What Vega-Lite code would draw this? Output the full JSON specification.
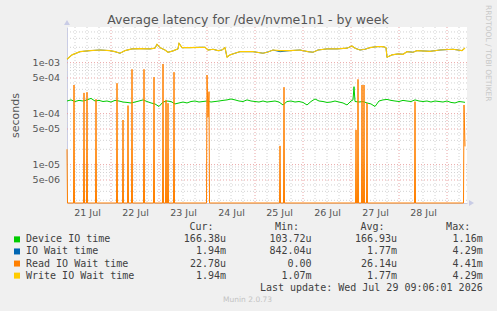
{
  "$schema": "https://vega.github.io/schema/vega-lite/v6.json",
  "width": 400,
  "height": 176,
  "autosize": {"type": "none"},
  "padding": {"left": 67, "top": 27, "right": 30, "bottom": 108},
  "background": "#f0f0f0",
  "config": {
    "view": {"fill": "#ffffff", "stroke": null},
    "font": "DejaVu Sans"
  },
  "title": {
    "text": "Average latency for /dev/nvme1n1 - by week",
    "fontSize": 12.5,
    "fontWeight": "normal",
    "color": "#555555",
    "anchor": "middle",
    "frame": "group",
    "offset": 2,
    "dx": -19,
    "dy": 23.5
  },
  "datasets": {
    "gridHours": [
      {"t": "2026-07-21T06:00"}, {"t": "2026-07-21T12:00"}, {"t": "2026-07-21T18:00"},
      {"t": "2026-07-22T06:00"}, {"t": "2026-07-22T12:00"}, {"t": "2026-07-22T18:00"},
      {"t": "2026-07-23T06:00"}, {"t": "2026-07-23T12:00"}, {"t": "2026-07-23T18:00"},
      {"t": "2026-07-24T06:00"}, {"t": "2026-07-24T12:00"}, {"t": "2026-07-24T18:00"},
      {"t": "2026-07-25T06:00"}, {"t": "2026-07-25T12:00"}, {"t": "2026-07-25T18:00"},
      {"t": "2026-07-26T06:00"}, {"t": "2026-07-26T12:00"}, {"t": "2026-07-26T18:00"},
      {"t": "2026-07-27T06:00"}, {"t": "2026-07-27T12:00"}, {"t": "2026-07-27T18:00"},
      {"t": "2026-07-28T06:00"}, {"t": "2026-07-28T12:00"}, {"t": "2026-07-28T18:00"},
      {"t": "2026-07-29T06:00"}
    ],
    "gridDays": [
      {"t": "2026-07-22T00:00"}, {"t": "2026-07-23T00:00"}, {"t": "2026-07-24T00:00"},
      {"t": "2026-07-25T00:00"}, {"t": "2026-07-26T00:00"}, {"t": "2026-07-27T00:00"},
      {"t": "2026-07-28T00:00"}, {"t": "2026-07-29T00:00"}
    ],
    "gridMinorY": [
      {"v": 2e-6}, {"v": 3e-6}, {"v": 4e-6}, {"v": 6e-6}, {"v": 7e-6}, {"v": 8e-6}, {"v": 9e-6},
      {"v": 2e-5}, {"v": 3e-5}, {"v": 4e-5}, {"v": 6e-5}, {"v": 7e-5}, {"v": 8e-5}, {"v": 9e-5},
      {"v": 2e-4}, {"v": 3e-4}, {"v": 4e-4}, {"v": 6e-4}, {"v": 7e-4}, {"v": 8e-4}, {"v": 9e-4},
      {"v": 2e-3}, {"v": 3e-3}, {"v": 4e-3}
    ],
    "ylabels": [
      {"v": 1e-3, "label": "1e-03"}, {"v": 5e-4, "label": "5e-04"},
      {"v": 1e-4, "label": "1e-04"}, {"v": 5e-5, "label": "5e-05"},
      {"v": 1e-5, "label": "1e-05"}, {"v": 5e-6, "label": "5e-06"}
    ],
    "dev": [
      {"t": "2026-07-21T02:00", "v": 1.77e-4}, {"t": "2026-07-21T04:00", "v": 1.86e-4},
      {"t": "2026-07-21T06:00", "v": 1.73e-4}, {"t": "2026-07-21T08:00", "v": 1.82e-4},
      {"t": "2026-07-21T10:00", "v": 1.77e-4}, {"t": "2026-07-21T12:00", "v": 1.86e-4},
      {"t": "2026-07-21T14:00", "v": 1.99e-4}, {"t": "2026-07-21T16:00", "v": 1.77e-4},
      {"t": "2026-07-21T18:00", "v": 1.82e-4}, {"t": "2026-07-21T20:00", "v": 1.73e-4},
      {"t": "2026-07-21T22:00", "v": 1.77e-4}, {"t": "2026-07-22T00:00", "v": 1.69e-4},
      {"t": "2026-07-22T02:00", "v": 1.82e-4}, {"t": "2026-07-22T04:00", "v": 1.77e-4},
      {"t": "2026-07-22T06:00", "v": 1.69e-4}, {"t": "2026-07-22T08:00", "v": 1.66e-4},
      {"t": "2026-07-22T10:00", "v": 1.62e-4}, {"t": "2026-07-22T12:00", "v": 1.69e-4},
      {"t": "2026-07-22T14:00", "v": 1.77e-4}, {"t": "2026-07-22T16:00", "v": 1.86e-4},
      {"t": "2026-07-22T18:00", "v": 1.73e-4}, {"t": "2026-07-22T20:00", "v": 1.62e-4},
      {"t": "2026-07-22T22:00", "v": 1.55e-4}, {"t": "2026-07-23T00:00", "v": 1.38e-4},
      {"t": "2026-07-23T02:00", "v": 1.69e-4}, {"t": "2026-07-23T04:00", "v": 1.77e-4},
      {"t": "2026-07-23T06:00", "v": 1.73e-4}, {"t": "2026-07-23T08:00", "v": 1.55e-4},
      {"t": "2026-07-23T10:00", "v": 1.62e-4}, {"t": "2026-07-23T12:00", "v": 1.69e-4},
      {"t": "2026-07-23T14:00", "v": 1.62e-4}, {"t": "2026-07-23T16:00", "v": 1.73e-4},
      {"t": "2026-07-23T18:00", "v": 1.77e-4}, {"t": "2026-07-23T20:00", "v": 1.69e-4},
      {"t": "2026-07-23T22:00", "v": 1.73e-4}, {"t": "2026-07-24T00:00", "v": 1.77e-4},
      {"t": "2026-07-24T02:00", "v": 1.69e-4}, {"t": "2026-07-24T04:00", "v": 1.73e-4},
      {"t": "2026-07-24T06:00", "v": 1.77e-4}, {"t": "2026-07-24T08:00", "v": 1.82e-4},
      {"t": "2026-07-24T10:00", "v": 1.86e-4}, {"t": "2026-07-24T12:00", "v": 1.94e-4},
      {"t": "2026-07-24T14:00", "v": 1.86e-4}, {"t": "2026-07-24T16:00", "v": 1.77e-4},
      {"t": "2026-07-24T18:00", "v": 1.73e-4}, {"t": "2026-07-24T20:00", "v": 1.86e-4},
      {"t": "2026-07-24T22:00", "v": 1.77e-4}, {"t": "2026-07-25T00:00", "v": 1.73e-4},
      {"t": "2026-07-25T02:00", "v": 1.69e-4}, {"t": "2026-07-25T04:00", "v": 1.77e-4},
      {"t": "2026-07-25T06:00", "v": 1.69e-4}, {"t": "2026-07-25T08:00", "v": 1.73e-4},
      {"t": "2026-07-25T10:00", "v": 1.77e-4}, {"t": "2026-07-25T12:00", "v": 1.69e-4},
      {"t": "2026-07-25T14:00", "v": 1.48e-4}, {"t": "2026-07-25T16:00", "v": 1.73e-4},
      {"t": "2026-07-25T18:00", "v": 1.77e-4}, {"t": "2026-07-25T20:00", "v": 1.69e-4},
      {"t": "2026-07-25T22:00", "v": 1.73e-4}, {"t": "2026-07-26T00:00", "v": 1.66e-4},
      {"t": "2026-07-26T02:00", "v": 1.48e-4}, {"t": "2026-07-26T04:00", "v": 1.73e-4},
      {"t": "2026-07-26T06:00", "v": 1.94e-4}, {"t": "2026-07-26T08:00", "v": 1.77e-4},
      {"t": "2026-07-26T10:00", "v": 1.73e-4}, {"t": "2026-07-26T12:00", "v": 1.66e-4},
      {"t": "2026-07-26T14:00", "v": 1.69e-4}, {"t": "2026-07-26T16:00", "v": 1.77e-4},
      {"t": "2026-07-26T18:00", "v": 1.69e-4}, {"t": "2026-07-26T20:00", "v": 1.62e-4},
      {"t": "2026-07-26T22:00", "v": 1.48e-4}, {"t": "2026-07-27T00:00", "v": 1.77e-4},
      {"t": "2026-07-27T01:00", "v": 1.86e-4}, {"t": "2026-07-27T01:30", "v": 3.38e-4},
      {"t": "2026-07-27T02:00", "v": 1.73e-4}, {"t": "2026-07-27T04:00", "v": 1.69e-4},
      {"t": "2026-07-27T06:00", "v": 1.73e-4}, {"t": "2026-07-27T08:00", "v": 1.62e-4},
      {"t": "2026-07-27T10:00", "v": 1.55e-4}, {"t": "2026-07-27T12:00", "v": 1.38e-4},
      {"t": "2026-07-27T14:00", "v": 1.77e-4}, {"t": "2026-07-27T16:00", "v": 1.86e-4},
      {"t": "2026-07-27T18:00", "v": 1.90e-4}, {"t": "2026-07-27T20:00", "v": 1.82e-4},
      {"t": "2026-07-27T22:00", "v": 1.77e-4}, {"t": "2026-07-28T00:00", "v": 1.73e-4},
      {"t": "2026-07-28T02:00", "v": 1.82e-4}, {"t": "2026-07-28T04:00", "v": 1.77e-4},
      {"t": "2026-07-28T06:00", "v": 1.73e-4}, {"t": "2026-07-28T08:00", "v": 1.86e-4},
      {"t": "2026-07-28T10:00", "v": 1.77e-4}, {"t": "2026-07-28T12:00", "v": 1.73e-4},
      {"t": "2026-07-28T14:00", "v": 1.77e-4}, {"t": "2026-07-28T16:00", "v": 1.69e-4},
      {"t": "2026-07-28T18:00", "v": 1.77e-4}, {"t": "2026-07-28T20:00", "v": 1.73e-4},
      {"t": "2026-07-28T22:00", "v": 1.69e-4}, {"t": "2026-07-29T00:00", "v": 1.77e-4},
      {"t": "2026-07-29T02:00", "v": 1.66e-4}, {"t": "2026-07-29T04:00", "v": 1.62e-4},
      {"t": "2026-07-29T06:00", "v": 1.73e-4}, {"t": "2026-07-29T08:00", "v": 1.69e-4},
      {"t": "2026-07-29T09:00", "v": 1.6638e-4}
    ],
    "iowait": [
      {"t": "2026-07-21T02:00", "v": 1.166e-3}, {"t": "2026-07-21T04:30", "v": 1.42e-3},
      {"t": "2026-07-21T08:30", "v": 1.64e-3}, {"t": "2026-07-21T13:30", "v": 1.72e-3},
      {"t": "2026-07-21T18:30", "v": 1.77e-3}, {"t": "2026-07-21T23:30", "v": 1.72e-3},
      {"t": "2026-07-22T02:00", "v": 1.64e-3}, {"t": "2026-07-22T04:30", "v": 1.53e-3},
      {"t": "2026-07-22T07:00", "v": 1.72e-3}, {"t": "2026-07-22T10:30", "v": 1.86e-3},
      {"t": "2026-07-22T14:30", "v": 1.88e-3}, {"t": "2026-07-22T19:30", "v": 1.86e-3},
      {"t": "2026-07-22T22:00", "v": 1.92e-3}, {"t": "2026-07-22T23:00", "v": 2.30e-3},
      {"t": "2026-07-23T00:30", "v": 1.97e-3}, {"t": "2026-07-23T03:00", "v": 1.77e-3},
      {"t": "2026-07-23T04:30", "v": 1.60e-3}, {"t": "2026-07-23T07:00", "v": 1.70e-3},
      {"t": "2026-07-23T09:30", "v": 1.86e-3}, {"t": "2026-07-23T10:00", "v": 2.40e-3},
      {"t": "2026-07-23T11:30", "v": 1.97e-3}, {"t": "2026-07-23T15:30", "v": 1.97e-3},
      {"t": "2026-07-23T20:30", "v": 2.00e-3}, {"t": "2026-07-23T23:00", "v": 2.00e-3},
      {"t": "2026-07-24T00:30", "v": 1.77e-3}, {"t": "2026-07-24T03:00", "v": 1.83e-3},
      {"t": "2026-07-24T05:30", "v": 1.72e-3}, {"t": "2026-07-24T07:30", "v": 1.77e-3},
      {"t": "2026-07-24T09:00", "v": 1.97e-3}, {"t": "2026-07-24T10:00", "v": 1.28e-3},
      {"t": "2026-07-24T11:30", "v": 1.42e-3}, {"t": "2026-07-24T14:00", "v": 1.53e-3},
      {"t": "2026-07-24T16:30", "v": 1.64e-3}, {"t": "2026-07-24T23:00", "v": 1.64e-3},
      {"t": "2026-07-25T04:00", "v": 1.53e-3}, {"t": "2026-07-25T06:30", "v": 1.62e-3},
      {"t": "2026-07-25T09:00", "v": 1.77e-3}, {"t": "2026-07-25T12:30", "v": 1.64e-3},
      {"t": "2026-07-25T17:30", "v": 1.72e-3}, {"t": "2026-07-25T22:30", "v": 1.77e-3},
      {"t": "2026-07-26T02:30", "v": 1.64e-3}, {"t": "2026-07-26T05:00", "v": 1.60e-3},
      {"t": "2026-07-26T07:30", "v": 1.77e-3}, {"t": "2026-07-26T12:00", "v": 1.86e-3},
      {"t": "2026-07-26T17:00", "v": 1.86e-3}, {"t": "2026-07-26T22:00", "v": 1.92e-3},
      {"t": "2026-07-27T00:30", "v": 2.12e-3}, {"t": "2026-07-27T02:00", "v": 1.92e-3},
      {"t": "2026-07-27T04:30", "v": 1.77e-3}, {"t": "2026-07-27T07:00", "v": 1.83e-3},
      {"t": "2026-07-27T09:30", "v": 1.97e-3}, {"t": "2026-07-27T13:00", "v": 2.06e-3},
      {"t": "2026-07-27T16:00", "v": 2.06e-3}, {"t": "2026-07-27T17:30", "v": 1.97e-3},
      {"t": "2026-07-27T18:00", "v": 1.28e-3}, {"t": "2026-07-27T20:30", "v": 1.42e-3},
      {"t": "2026-07-27T23:30", "v": 1.48e-3}, {"t": "2026-07-28T02:00", "v": 1.46e-3},
      {"t": "2026-07-28T04:00", "v": 1.64e-3}, {"t": "2026-07-28T07:00", "v": 1.60e-3},
      {"t": "2026-07-28T09:00", "v": 1.72e-3}, {"t": "2026-07-28T15:30", "v": 1.67e-3},
      {"t": "2026-07-28T20:30", "v": 1.77e-3}, {"t": "2026-07-29T03:00", "v": 1.83e-3},
      {"t": "2026-07-29T07:30", "v": 1.72e-3}, {"t": "2026-07-29T09:00", "v": 1.94e-3}
    ],
    "write": [
      {"t": "2026-07-21T02:00", "v": 1.166e-3}, {"t": "2026-07-21T04:30", "v": 1.42e-3},
      {"t": "2026-07-21T08:30", "v": 1.64e-3}, {"t": "2026-07-21T13:30", "v": 1.72e-3},
      {"t": "2026-07-21T18:30", "v": 1.77e-3}, {"t": "2026-07-21T23:30", "v": 1.72e-3},
      {"t": "2026-07-22T02:00", "v": 1.64e-3}, {"t": "2026-07-22T04:30", "v": 1.53e-3},
      {"t": "2026-07-22T07:00", "v": 1.72e-3}, {"t": "2026-07-22T10:30", "v": 1.86e-3},
      {"t": "2026-07-22T14:30", "v": 1.88e-3}, {"t": "2026-07-22T19:30", "v": 1.86e-3},
      {"t": "2026-07-22T22:00", "v": 1.92e-3}, {"t": "2026-07-22T23:00", "v": 2.30e-3},
      {"t": "2026-07-23T00:30", "v": 1.97e-3}, {"t": "2026-07-23T03:00", "v": 1.77e-3},
      {"t": "2026-07-23T04:30", "v": 1.60e-3}, {"t": "2026-07-23T07:00", "v": 1.70e-3},
      {"t": "2026-07-23T09:30", "v": 1.86e-3}, {"t": "2026-07-23T10:00", "v": 2.40e-3},
      {"t": "2026-07-23T11:30", "v": 1.97e-3}, {"t": "2026-07-23T15:30", "v": 1.97e-3},
      {"t": "2026-07-23T20:30", "v": 2.00e-3}, {"t": "2026-07-23T23:00", "v": 2.00e-3},
      {"t": "2026-07-24T00:30", "v": 1.77e-3}, {"t": "2026-07-24T03:00", "v": 1.83e-3},
      {"t": "2026-07-24T05:30", "v": 1.72e-3}, {"t": "2026-07-24T07:30", "v": 1.77e-3},
      {"t": "2026-07-24T09:00", "v": 1.97e-3}, {"t": "2026-07-24T10:00", "v": 1.28e-3},
      {"t": "2026-07-24T11:30", "v": 1.42e-3}, {"t": "2026-07-24T14:00", "v": 1.53e-3},
      {"t": "2026-07-24T16:30", "v": 1.64e-3}, {"t": "2026-07-24T23:00", "v": 1.64e-3},
      {"t": "2026-07-25T04:00", "v": 1.53e-3}, {"t": "2026-07-25T06:30", "v": 1.62e-3},
      {"t": "2026-07-25T09:00", "v": 1.77e-3}, {"t": "2026-07-25T12:30", "v": 1.72e-3},
      {"t": "2026-07-25T17:30", "v": 1.72e-3}, {"t": "2026-07-25T22:30", "v": 1.77e-3},
      {"t": "2026-07-26T02:30", "v": 1.64e-3}, {"t": "2026-07-26T05:00", "v": 1.60e-3},
      {"t": "2026-07-26T07:30", "v": 1.77e-3}, {"t": "2026-07-26T12:00", "v": 1.86e-3},
      {"t": "2026-07-26T17:00", "v": 1.86e-3}, {"t": "2026-07-26T22:00", "v": 1.92e-3},
      {"t": "2026-07-27T00:30", "v": 2.12e-3}, {"t": "2026-07-27T02:00", "v": 1.92e-3},
      {"t": "2026-07-27T04:30", "v": 1.77e-3}, {"t": "2026-07-27T07:00", "v": 1.83e-3},
      {"t": "2026-07-27T09:30", "v": 1.97e-3}, {"t": "2026-07-27T13:00", "v": 2.06e-3},
      {"t": "2026-07-27T16:00", "v": 2.06e-3}, {"t": "2026-07-27T17:30", "v": 1.97e-3},
      {"t": "2026-07-27T18:00", "v": 1.28e-3}, {"t": "2026-07-27T20:30", "v": 1.42e-3},
      {"t": "2026-07-27T23:30", "v": 1.48e-3}, {"t": "2026-07-28T02:00", "v": 1.46e-3},
      {"t": "2026-07-28T04:00", "v": 1.64e-3}, {"t": "2026-07-28T07:00", "v": 1.60e-3},
      {"t": "2026-07-28T09:00", "v": 1.72e-3}, {"t": "2026-07-28T15:30", "v": 1.67e-3},
      {"t": "2026-07-28T20:30", "v": 1.77e-3}, {"t": "2026-07-29T03:00", "v": 1.83e-3},
      {"t": "2026-07-29T07:30", "v": 1.72e-3}, {"t": "2026-07-29T09:00", "v": 1.94e-3}
    ],
    "read": [
      {"t": "2026-07-21T02:00", "v": 2.0e-5}, {"t": "2026-07-21T02:15", "v": 0},
      {"t": "2026-07-21T05:15", "v": 0}, {"t": "2026-07-21T05:30", "v": 3.65e-4}, {"t": "2026-07-21T05:45", "v": 0},
      {"t": "2026-07-21T10:15", "v": 0}, {"t": "2026-07-21T10:30", "v": 2.55e-4}, {"t": "2026-07-21T10:45", "v": 0},
      {"t": "2026-07-21T11:45", "v": 0}, {"t": "2026-07-21T12:00", "v": 2.63e-4}, {"t": "2026-07-21T12:15", "v": 0},
      {"t": "2026-07-21T16:15", "v": 0}, {"t": "2026-07-21T16:30", "v": 1.92e-4}, {"t": "2026-07-21T16:45", "v": 0},
      {"t": "2026-07-22T02:45", "v": 0}, {"t": "2026-07-22T03:00", "v": 3.95e-4}, {"t": "2026-07-22T03:15", "v": 0},
      {"t": "2026-07-22T05:45", "v": 0}, {"t": "2026-07-22T06:00", "v": 7.5e-5}, {"t": "2026-07-22T06:15", "v": 0},
      {"t": "2026-07-22T08:15", "v": 0}, {"t": "2026-07-22T08:30", "v": 1.44e-4}, {"t": "2026-07-22T08:45", "v": 0},
      {"t": "2026-07-22T10:15", "v": 0}, {"t": "2026-07-22T10:30", "v": 7.4e-4}, {"t": "2026-07-22T10:45", "v": 0},
      {"t": "2026-07-22T16:15", "v": 0}, {"t": "2026-07-22T16:30", "v": 7.4e-4}, {"t": "2026-07-22T16:45", "v": 0},
      {"t": "2026-07-22T21:15", "v": 0}, {"t": "2026-07-22T21:30", "v": 5.2e-4}, {"t": "2026-07-22T21:45", "v": 0},
      {"t": "2026-07-23T01:45", "v": 0}, {"t": "2026-07-23T02:00", "v": 9.4e-4}, {"t": "2026-07-23T02:15", "v": 0},
      {"t": "2026-07-23T03:15", "v": 0}, {"t": "2026-07-23T03:30", "v": 1.86e-4}, {"t": "2026-07-23T03:45", "v": 0},
      {"t": "2026-07-23T04:15", "v": 0}, {"t": "2026-07-23T04:30", "v": 1.6e-4}, {"t": "2026-07-23T04:45", "v": 0},
      {"t": "2026-07-23T07:15", "v": 0}, {"t": "2026-07-23T07:30", "v": 6.5e-4}, {"t": "2026-07-23T07:45", "v": 0},
      {"t": "2026-07-23T23:45", "v": 0}, {"t": "2026-07-24T00:00", "v": 5.7e-4}, {"t": "2026-07-24T00:30", "v": 8.5e-5},
      {"t": "2026-07-24T01:00", "v": 2.7e-4}, {"t": "2026-07-24T01:15", "v": 0},
      {"t": "2026-07-25T12:15", "v": 0}, {"t": "2026-07-25T12:30", "v": 2.33e-5}, {"t": "2026-07-25T12:45", "v": 0},
      {"t": "2026-07-25T14:15", "v": 0}, {"t": "2026-07-25T14:30", "v": 3.3e-4}, {"t": "2026-07-25T14:45", "v": 0},
      {"t": "2026-07-27T02:15", "v": 0}, {"t": "2026-07-27T02:30", "v": 4.8e-5}, {"t": "2026-07-27T02:45", "v": 0},
      {"t": "2026-07-27T03:15", "v": 0}, {"t": "2026-07-27T03:30", "v": 4.7e-4}, {"t": "2026-07-27T03:45", "v": 0},
      {"t": "2026-07-27T05:15", "v": 0}, {"t": "2026-07-27T05:30", "v": 3.65e-4}, {"t": "2026-07-27T05:45", "v": 0},
      {"t": "2026-07-27T06:15", "v": 0}, {"t": "2026-07-27T06:30", "v": 3.65e-4}, {"t": "2026-07-27T06:45", "v": 0},
      {"t": "2026-07-27T07:45", "v": 0}, {"t": "2026-07-27T08:00", "v": 1.62e-4}, {"t": "2026-07-27T08:15", "v": 0},
      {"t": "2026-07-28T07:45", "v": 0}, {"t": "2026-07-28T08:00", "v": 1.72e-4}, {"t": "2026-07-28T08:15", "v": 0},
      {"t": "2026-07-29T08:15", "v": 0}, {"t": "2026-07-29T08:30", "v": 1.48e-4}, {"t": "2026-07-29T09:00", "v": 2.278e-5}
    ],
    "stats": [
      {"row": "Device IO time", "Cur": "166.38u", "Min": "103.72u", "Avg": "166.93u", "Max": "1.16m"},
      {"row": "IO Wait time", "Cur": "1.94m", "Min": "842.04u", "Avg": "1.77m", "Max": "4.29m"},
      {"row": "Read IO Wait time", "Cur": "22.78u", "Min": "0.00\u00a0", "Avg": "26.14u", "Max": "4.41m"},
      {"row": "Write IO Wait time", "Cur": "1.94m", "Min": "1.07m", "Avg": "1.77m", "Max": "4.29m"}
    ],
    "heads": [
      {"row": "hdr", "col": "Cur", "text": "Cur:"},
      {"row": "hdr", "col": "Min", "text": "Min:"},
      {"row": "hdr", "col": "Avg", "text": "Avg:"},
      {"row": "hdr", "col": "Max", "text": "Max:"}
    ],
    "notes": [
      {"row": "update", "col": "Max", "text": "Last update: Wed Jul 29 09:06:01 2026"}
    ],
    "footer": [
      {"row": "munin", "col": "Min", "text": "Munin 2.0.73"}
    ]
  },
  "layer": [
    {
      "layer": [
        {
          "data": {"name": "gridHours"},
          "mark": {"type": "rule", "strokeWidth": 1, "strokeDash": [1, 2], "color": "#d2d2d2"},
          "encoding": {
            "x": {
              "field": "t", "type": "temporal",
              "scale": {"domain": [{"year": 2026, "month": 7, "date": 21, "hours": 2}, {"year": 2026, "month": 7, "date": 29, "hours": 10}]},
              "axis": {
                "title": null,
                "values": [
                  {"year": 2026, "month": 7, "date": 21, "hours": 12}, {"year": 2026, "month": 7, "date": 22, "hours": 12},
                  {"year": 2026, "month": 7, "date": 23, "hours": 12}, {"year": 2026, "month": 7, "date": 24, "hours": 12},
                  {"year": 2026, "month": 7, "date": 25, "hours": 12}, {"year": 2026, "month": 7, "date": 26, "hours": 12},
                  {"year": 2026, "month": 7, "date": 27, "hours": 12}, {"year": 2026, "month": 7, "date": 28, "hours": 12}
                ],
                "format": "%d %b",
                "grid": false,
                "ticks": false,
                "labelFontSize": 9.5,
                "labelColor": "#555555",
                "labelPadding": 4,
                "domainColor": "#c9cce6"
              }
            }
          }
        },
        {
          "data": {"name": "gridDays"},
          "mark": {"type": "rule", "strokeWidth": 1, "strokeDash": [1, 2], "color": "#e8a4a4"},
          "encoding": {"x": {"field": "t", "type": "temporal"}}
        },
        {
          "data": {"name": "gridMinorY"},
          "mark": {"type": "rule", "strokeWidth": 1, "strokeDash": [1, 2], "color": "#d2d2d2"},
          "encoding": {
            "y": {
              "field": "v", "type": "quantitative",
              "scale": {"type": "log", "domain": [1.77e-6, 5.0e-3], "nice": false, "clamp": true},
              "axis": {
                "title": "seconds",
                "titleFontSize": 11,
                "titleFontWeight": "normal",
                "titleColor": "#555555",
                "titlePadding": 47,
                "labels": false,
                "ticks": false,
                "grid": false,
                "domainColor": "#c9cce6"
              }
            }
          }
        },
        {
          "data": {"name": "ylabels"},
          "mark": {"type": "rule", "strokeWidth": 1, "strokeDash": [1, 2], "color": "#e8a4a4"},
          "encoding": {"y": {"field": "v", "type": "quantitative"}}
        },
        {
          "data": {"name": "ylabels"},
          "mark": {"type": "text", "align": "right", "baseline": "middle", "fontSize": 9.5, "color": "#555555", "dx": -7},
          "encoding": {
            "x": {"datum": {"year": 2026, "month": 7, "date": 21, "hours": 2}, "type": "temporal"},
            "y": {"field": "v", "type": "quantitative"},
            "text": {"field": "label"}
          }
        },
        {
          "data": {"name": "dev"},
          "mark": {"type": "line", "strokeWidth": 1},
          "encoding": {
            "x": {"field": "t", "type": "temporal"},
            "y": {"field": "v", "type": "quantitative"},
            "color": {
              "datum": "Device IO time", "type": "nominal",
              "scale": {"domain": ["Device IO time", "IO Wait time", "Read IO Wait time", "Write IO Wait time"], "range": ["#00cc00", "#0066b3", "#ff8000", "#ffcc00"]},
              "legend": null
            }
          }
        },
        {
          "data": {"name": "iowait"},
          "mark": {"type": "line", "strokeWidth": 1},
          "encoding": {
            "x": {"field": "t", "type": "temporal"},
            "y": {"field": "v", "type": "quantitative"},
            "color": {"datum": "IO Wait time", "type": "nominal", "legend": null}
          }
        },
        {
          "data": {"name": "read"},
          "mark": {"type": "line", "strokeWidth": 1},
          "encoding": {
            "x": {"field": "t", "type": "temporal"},
            "y": {"field": "v", "type": "quantitative"},
            "color": {"datum": "Read IO Wait time", "type": "nominal", "legend": null}
          }
        },
        {
          "data": {"name": "write"},
          "mark": {"type": "line", "strokeWidth": 1.2},
          "encoding": {
            "x": {"field": "t", "type": "temporal"},
            "y": {"field": "v", "type": "quantitative"},
            "color": {"datum": "Write IO Wait time", "type": "nominal", "legend": null}
          }
        },
        {
          "data": {"values": [{"axis": "y"}]},
          "mark": {"type": "point", "shape": "M -1.5 -1 L 0 -3.5 L 1.5 -1 Z", "size": 16, "filled": true, "opacity": 1, "color": "#c9cce6"},
          "encoding": {
            "x": {"datum": {"year": 2026, "month": 7, "date": 21, "hours": 2}, "type": "temporal"},
            "y": {"datum": 5.0e-3, "type": "quantitative"}
          }
        },
        {
          "data": {"values": [{"axis": "x"}]},
          "mark": {"type": "point", "shape": "M 1 -1.5 L 3.5 0 L 1 1.5 Z", "size": 16, "filled": true, "opacity": 1, "color": "#c9cce6"},
          "encoding": {
            "x": {"datum": {"year": 2026, "month": 7, "date": 29, "hours": 10}, "type": "temporal"},
            "y": {"datum": 1.77e-6, "type": "quantitative"}
          }
        },
        {
          "data": {"values": [{"text": "RRDTOOL / TOBI OETIKER"}]},
          "mark": {"type": "text", "angle": 90, "align": "center", "baseline": "middle", "fontSize": 7.5, "color": "#c8c8c8"},
          "encoding": {
            "x": {"datum": {"year": 2026, "month": 7, "date": 29, "hours": 20, "minutes": 30}, "type": "temporal"},
            "y": {"datum": 1.53e-3, "type": "quantitative"},
            "text": {"field": "text"}
          }
        }
      ]
    },
    {
      "layer": [
        {
          "layer": [
            {
              "data": {"name": "stats"},
              "mark": {"type": "square", "size": 36, "filled": true, "opacity": 1},
              "encoding": {
                "x": {"datum": "swatch", "type": "nominal", "scale": {"type": "point", "domain": ["swatch", "name"], "range": [-50, -41], "padding": 0}, "axis": null},
                "y": {"field": "row", "type": "nominal", "scale": {"type": "point", "domain": ["hdr", "Device IO time", "IO Wait time", "Read IO Wait time", "Write IO Wait time", "update", "munin"], "range": [200.3, 272.8], "padding": 0}, "axis": null},
                "color": {"field": "row", "type": "nominal", "legend": null}
              }
            },
            {
              "data": {"name": "stats"},
              "mark": {"type": "text", "align": "left", "baseline": "middle", "font": "DejaVu Sans Mono", "fontSize": 10, "color": "#404040"},
              "encoding": {
                "x": {"datum": "name", "type": "nominal", "axis": null},
                "y": {"field": "row", "type": "nominal", "axis": null},
                "text": {"field": "row"}
              }
            }
          ]
        },
        {
          "layer": [
            {
              "data": {"name": "heads"},
              "mark": {"type": "text", "align": "right", "baseline": "middle", "font": "DejaVu Sans Mono", "fontSize": 10, "color": "#404040", "dx": -12.5},
              "encoding": {
                "x": {"field": "col", "type": "nominal", "scale": {"type": "point", "domain": ["Cur", "Min", "Avg", "Max"], "range": [159, 415.7], "padding": 0}, "axis": null},
                "y": {"field": "row", "type": "nominal", "axis": null},
                "text": {"field": "text"}
              }
            },
            {
              "data": {"name": "stats"},
              "transform": [{"fold": ["Cur", "Min", "Avg", "Max"], "as": ["col", "val"]}],
              "mark": {"type": "text", "align": "right", "baseline": "middle", "font": "DejaVu Sans Mono", "fontSize": 10, "color": "#404040"},
              "encoding": {
                "x": {"field": "col", "type": "nominal", "axis": null},
                "y": {"field": "row", "type": "nominal", "axis": null},
                "text": {"field": "val"}
              }
            },
            {
              "data": {"name": "notes"},
              "mark": {"type": "text", "align": "right", "baseline": "middle", "font": "DejaVu Sans Mono", "fontSize": 10, "color": "#404040"},
              "encoding": {
                "x": {"field": "col", "type": "nominal", "axis": null},
                "y": {"field": "row", "type": "nominal", "axis": null},
                "text": {"field": "text"}
              }
            },
            {
              "data": {"name": "footer"},
              "mark": {"type": "text", "align": "center", "baseline": "middle", "fontSize": 7.5, "color": "#c3c3c3", "dx": -64},
              "encoding": {
                "x": {"field": "col", "type": "nominal", "axis": null},
                "y": {"field": "row", "type": "nominal", "axis": null},
                "text": {"field": "text"}
              }
            }
          ]
        }
      ],
      "resolve": {"scale": {"x": "independent"}}
    }
  ],
  "resolve": {"scale": {"x": "independent", "y": "independent"}}
}
